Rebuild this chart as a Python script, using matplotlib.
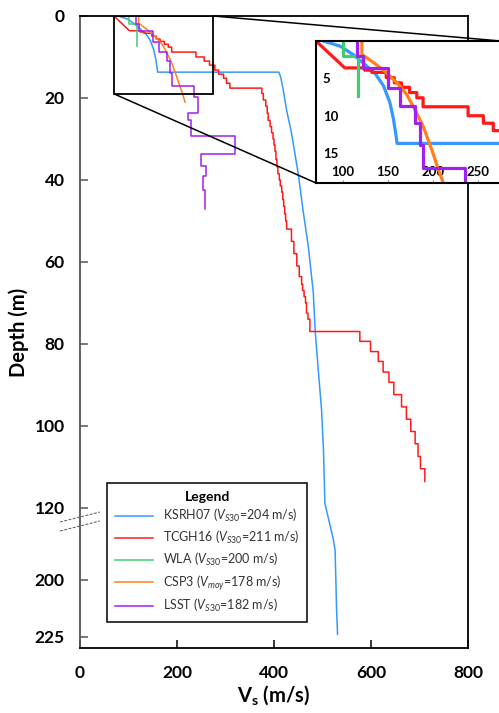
import numpy as np
import matplotlib
matplotlib.use('Agg')
import matplotlib.pyplot as plt
from matplotlib.patches import Rectangle, ConnectionPatch
from matplotlib.lines import Line2D

plt.rcParams['font.family'] = ['Lato', 'DejaVu Sans']
plt.rcParams['mathtext.fontset'] = 'custom'
plt.rcParams['mathtext.rm'] = 'Lato'
plt.rcParams['mathtext.it'] = 'Lato:italic'
plt.rcParams['mathtext.bf'] = 'Lato:bold'

# KSRH07 - smooth profile
ksrh07_vs = [78, 97, 111, 124, 136, 145, 152, 156, 159, 160, 410, 414, 419, 426, 436, 443, 450,
             460, 471, 481, 485, 491, 498, 502, 505, 522, 526, 529, 531]
ksrh07_depth = [0, 0.7, 1.8, 3.1, 4.4, 6.0, 8.2, 10.4, 12.7, 13.7, 13.7, 15, 18, 23, 28.5, 33.5, 38.5,
                47.5, 56.5, 67.5, 77, 86, 96, 106, 119, 182, 187, 213, 224]

# TCGH16 - first gradient then layered
tcgh16_head_vs = [70, 102]
tcgh16_head_depth = [0, 3.6]
tcgh16_top = [3.6, 3.9, 4.2, 4.9, 5.6, 6.2, 6.9, 7.6, 8.8, 10, 11, 12, 13.2, 14.2, 15.2, 16.4, 17.6,
              18.9, 20.5, 22, 23.7, 25.5, 27, 28.5, 30, 31.5, 33, 35, 36.8, 38.5, 40, 41.5, 43, 44.8,
              46.5, 48.3, 50, 52, 55, 58, 61, 63.6, 65.5, 67, 68.5, 70, 72.5, 74, 77, 79.4, 81.9, 84.3,
              86.9, 89.4, 92.4, 95.4, 98.4, 101.4, 104.4, 107.5, 110.5]
tcgh16_layer_vs = [124, 132, 148, 157, 165, 174, 182, 189, 239, 256, 267, 278, 286, 296, 302, 309, 375,
                   378, 383, 386, 388, 392, 395, 398, 400, 402, 404, 406, 408, 411, 413, 416, 418, 420,
                   422, 424, 426, 436, 441, 447, 452, 457, 459, 462, 465, 467, 470, 474, 577, 599, 615, 625,
                   637, 647, 663, 673, 682, 691, 697, 702, 711]
tcgh16_bottom = 113.6

# WLA
wla_vs = [100, 100, 117, 117]
wla_depth = [0, 2.0, 2.0, 7.3]

# CSP3 - smooth curve
csp3_vs = [121, 121, 127, 134, 147, 160, 171, 180, 189, 198.5, 206, 211.5, 216.5]
csp3_depth = [0, 1.8, 2.3, 2.9, 4.1, 5.6, 7.2, 9.2, 11.4, 14.5, 17.2, 19, 21]

# LSST - layered
lsst_top = [0, 1.96, 3.64, 6.3, 8.76, 10.98, 13.87, 16.98, 19.7, 23.7, 25.4, 29.3, 33.7, 36.7, 39, 42.5]
lsst_layer_vs = [115, 122.6, 150.4, 163.3, 180, 185.6, 189.3, 236, 244, 223, 228, 320, 249, 259, 253, 257]
lsst_bottom = 47

labels = [r'KSRH07 ($V_{S30}$=204 m/s)', r'TCGH16 ($V_{S30}$=211 m/s)', r'WLA ($V_{S30}$=200 m/s)',
          r'CSP3 ($V_{moy}$=178 m/s)', r'LSST ($V_{S30}$=182 m/s)']
colors = ['#3399ff', '#ff1a1a', '#40cc70', '#ff7f1a', '#a020f0']


def steps(top, vs, bottom):
    z = np.append(np.repeat(top, 2)[1:], bottom)
    v = np.repeat(vs, 2)
    return v, z


red_v, red_z = steps(tcgh16_top, tcgh16_layer_vs, tcgh16_bottom)
red_v = np.concatenate([tcgh16_head_vs, red_v])
red_z = np.concatenate([tcgh16_head_depth, red_z])
pur_v, pur_z = steps(lsst_top, lsst_layer_vs, lsst_bottom)

profiles = [(ksrh07_vs, ksrh07_depth), (red_v, red_z), (wla_vs, wla_depth),
            (csp3_vs, csp3_depth), (pur_v, pur_z)]

# broken depth axis: 0-120 m then jump to the deep part
brk_d = [-100, 0, 120, 170, 500]
brk_p = [-410, 0, 492, 495.6, 495.6 + 330 * 2.28]


def fwd(d):
    return np.interp(d, brk_d, brk_p)


def inv(p):
    return np.interp(p, brk_p, brk_d)


fig = plt.figure(figsize=(4.99, 7.13), dpi=100)
ax = fig.add_axes([80 / 499, 1 - 648 / 713, 388 / 499, 632 / 713])

for (v, z), c, lab in zip(profiles, colors, labels):
    ax.plot(v, z, color=c, lw=1.1, label=lab)

ax.set_yscale('function', functions=(fwd, inv))
ax.set_xlim(0, 800)
ax.set_ylim(230, 0)
ax.set_xticks([0, 200, 400, 600, 800])
ax.set_yticks([0, 20, 40, 60, 80, 100, 120, 200, 225])
ax.minorticks_off()
ax.tick_params(axis='x', direction='in', length=6, width=1.1, pad=12, labelsize=12.5)
ax.tick_params(axis='y', direction='in', length=6, width=1.1, pad=11, labelsize=12.5, color='#555555')
for lab in ax.get_xticklabels() + ax.get_yticklabels():
    lab.set_fontweight('bold')
for s in ax.spines.values():
    s.set_linewidth(1.3)
ax.spines['left'].set_color('#555555')

ax.set_xlabel(r'V$_\mathbf{s}$ (m/s)', fontsize=14.5, fontweight='bold', labelpad=2)
ax.set_ylabel('Depth (m)', fontsize=14.5, fontweight='bold', labelpad=4)

# zoom box
ax.add_patch(Rectangle((70, 0), 205, 19, fill=False, ec='black', lw=1.3, zorder=5))

leg = ax.legend(loc='lower left', bbox_to_anchor=(107 / 499, 1 - 622 / 713), bbox_transform=fig.transFigure,
                borderaxespad=0, fontsize=9, title='Legend', title_fontproperties={'weight': 'bold', 'size': 10},
                fancybox=False, framealpha=1, edgecolor='black', handlelength=3.1, handletextpad=0.8,
                labelspacing=0.38, borderpad=0.6)
leg.get_frame().set_linewidth(1.1)
for t in leg.get_texts():
    t.set_color('#333333')

# axis break marks
for y0, y1 in [(522, 512), (531, 521)]:
    fig.add_artist(Line2D([60 / 499, 100 / 499], [1 - y0 / 713, 1 - y1 / 713], transform=fig.transFigure,
                          color='#555555', lw=0.7, ls=(0, (3, 1.5))))

# inset
axin = fig.add_axes([316 / 499, 1 - 183 / 713, 184.5 / 499, 142 / 713])
for (v, z), c in zip(profiles, colors):
    axin.plot(v, z, color=c, lw=2.3)
axin.set_xlim(70, 275)
axin.set_ylim(19, 0)
axin.set_xticks([100, 150, 200, 250])
axin.set_yticks([5, 10, 15])
axin.tick_params(axis='x', direction='in', length=2, color='#888888', pad=-12, labelsize=9.5)
axin.tick_params(axis='y', direction='in', length=0, pad=-5, labelsize=9.5)
for lab in axin.get_xticklabels() + axin.get_yticklabels():
    lab.set_fontweight('bold')
for lab in axin.get_yticklabels():
    lab.set_ha('left')
for s in axin.spines.values():
    s.set_linewidth(1.5)

for xa, ya, xb, yb in [(275, 0, 1, 1), (70, 19, 0, 0)]:
    con = ConnectionPatch(xyA=(xa, ya), coordsA=ax.transData, xyB=(xb, yb), coordsB=axin.transAxes,
                          color='black', lw=1.1)
    fig.add_artist(con)

fig.savefig('out.png', dpi=100)
